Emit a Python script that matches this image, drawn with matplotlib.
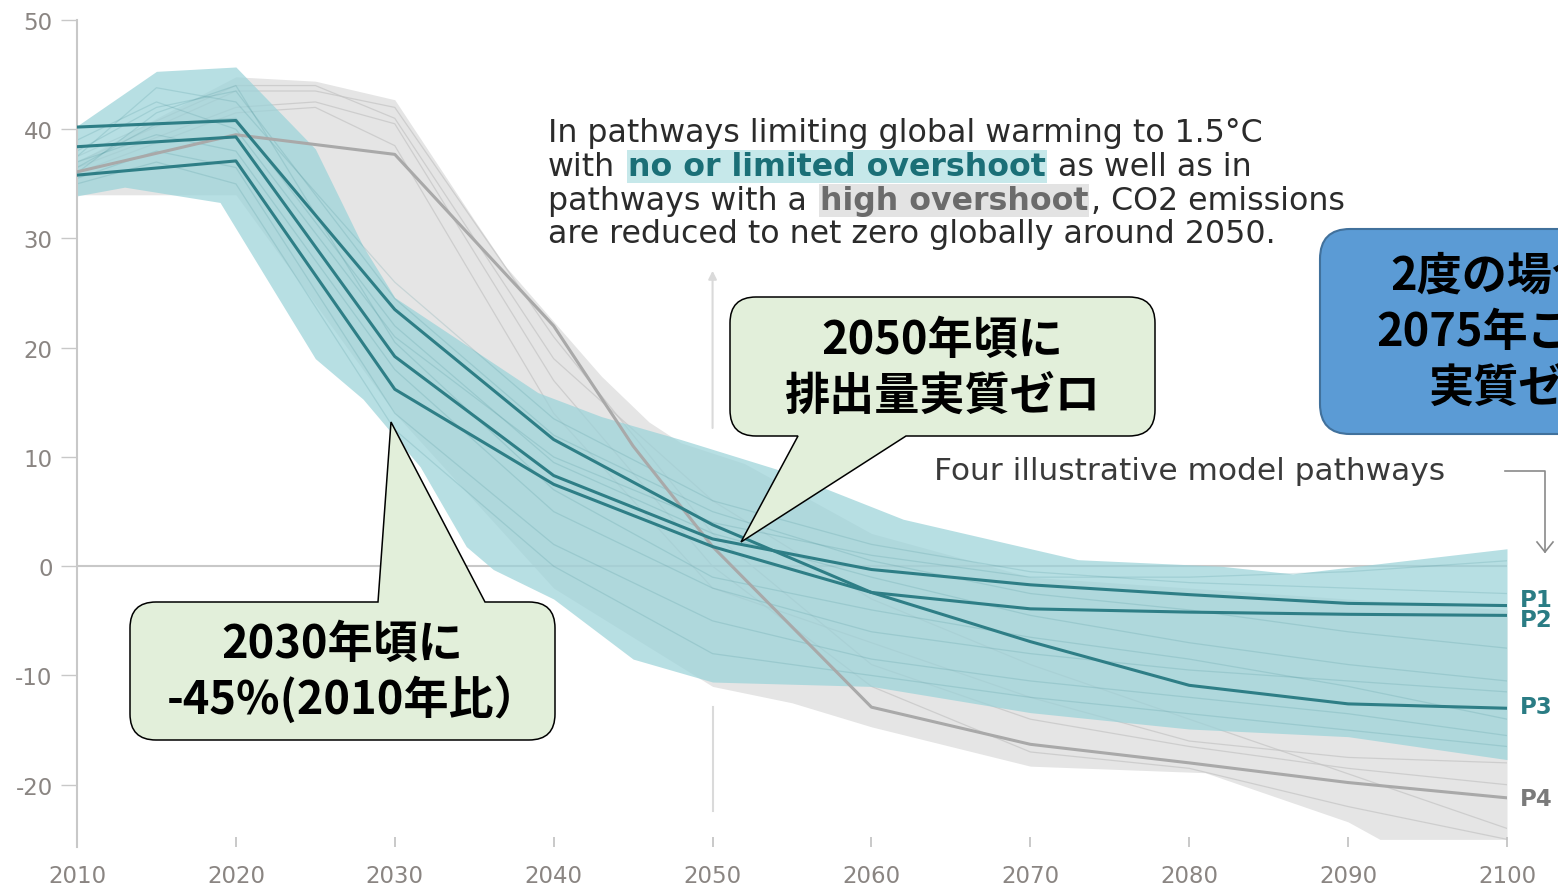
import numpy as np
import matplotlib
matplotlib.use('Agg')
import matplotlib.pyplot as plt
from matplotlib.path import Path
from matplotlib.patches import PathPatch
from matplotlib.lines import Line2D
from matplotlib.transforms import Affine2D

plt.rcParams['axes.unicode_minus'] = False

W, H = 1558, 887

# --- envelopes (GtCO2/yr) ---
teal_up_years = [2010, 2015, 2020, 2025, 2028, 2030, 2039, 2043, 2048, 2054, 2062, 2073, 2082, 2086.5, 2090, 2100]
teal_up = [40.3, 45.3, 45.7, 38.2, 29.3, 24.6, 15.9, 13.7, 11.6, 8.9, 4.3, 0.6, 0.0, -0.7, -0.1, 1.6]
teal_lo_years = [2010, 2013, 2019, 2025, 2028, 2031.6, 2034.5, 2036.2, 2040, 2045, 2050, 2060, 2070, 2080, 2090, 2100]
teal_lo = [33.9, 34.7, 33.3, 19.0, 15.3, 9.1, 1.8, -0.3, -3.0, -8.5, -10.6, -11.0, -13.4, -14.9, -15.6, -17.7]

grey_up_years = [2010, 2015, 2020, 2025, 2030, 2035, 2037, 2040, 2043, 2046, 2048, 2052, 2060, 2070, 2080, 2090, 2100]
grey_up = [37.0, 41.0, 44.8, 44.4, 42.7, 31.7, 27.4, 22.4, 17.4, 13.2, 11.3, 9.4, 3.0, -1.0, -2.0, -3.0, -4.0]
grey_lo_years = [2010, 2020, 2030, 2040, 2050, 2055, 2060, 2070, 2081, 2090, 2092, 2100]
grey_lo = [34.0, 34.0, 14.0, -2.0, -11.0, -12.5, -14.7, -18.3, -18.9, -23.4, -25.0, -25.0]

# --- illustrative pathways ---
p_years = [2010, 2020, 2030, 2040, 2050, 2060, 2070, 2080, 2090, 2100]
p1 = [38.4, 39.3, 19.2, 8.3, 2.5, -0.3, -1.7, -2.6, -3.4, -3.6]
p2 = [35.8, 37.1, 16.2, 7.5, 1.8, -2.4, -3.9, -4.2, -4.4, -4.5]
p3 = [40.2, 40.8, 23.5, 11.6, 3.8, -2.4, -6.9, -10.9, -12.6, -13.0]
p4_years = [2010, 2020, 2030, 2040, 2045, 2050, 2060, 2070, 2080, 2090, 2100]
p4 = [36.1, 39.5, 37.7, 22.0, 11.0, 1.8, -12.9, -16.3, -18.0, -19.8, -21.2]
p_labels = ['P1', 'P2', 'P3', 'P4']
p_label_y = [-3.0, -4.9, -12.8, -21.3]

# --- a few faint scenario lines inside the bands ---
s_years = [2010, 2015, 2020, 2030, 2040, 2050, 2060, 2070, 2080, 2090, 2100]
teal_runs = [
    [37.5, 43.8, 42.5, 26.0, 13.5, 6.0, 2.0, -0.5, -1.5, -2.0, -2.5],
    [36.5, 40.5, 41.0, 22.0, 9.5, 3.0, -1.0, -4.5, -7.0, -9.0, -10.5],
    [35.5, 38.0, 36.5, 14.0, 2.0, -5.0, -8.5, -10.5, -12.0, -13.5, -15.5],
    [38.0, 42.0, 43.5, 24.5, 12.0, 5.0, 0.5, -2.5, -4.0, -6.0, -7.5],
    [37.0, 39.5, 38.0, 18.0, 5.0, -2.0, -6.0, -8.0, -9.5, -10.5, -11.5],
    [36.0, 41.5, 44.0, 20.5, 7.0, -1.0, -4.0, -6.5, -8.5, -11.0, -14.0],
    [39.0, 42.5, 40.0, 21.0, 10.0, 4.0, 1.0, -1.0, -1.0, -0.5, 0.5],
    [35.0, 37.0, 35.0, 12.5, 0.0, -8.0, -10.0, -12.0, -13.5, -15.0, -16.5],
]
g_years = [2010, 2020, 2025, 2030, 2040, 2050, 2060, 2070, 2080, 2090, 2100]
grey_runs = [
    [37.0, 43.5, 43.5, 42.0, 21.0, 3.0, -9.0, -14.0, -16.5, -18.5, -20.0],
    [36.5, 42.0, 42.5, 40.5, 17.0, 0.0, -11.0, -17.0, -18.5, -22.0, -25.0],
    [36.0, 41.5, 42.0, 38.5, 14.0, -2.0, -7.0, -12.0, -16.0, -17.5, -18.0],
    [37.5, 44.0, 44.0, 41.0, 19.0, 6.0, -3.0, -9.0, -14.0, -19.0, -24.0],
]

x_ticks = list(range(2010, 2101, 10))
y_ticks = [-20, -10, 0, 10, 20, 30, 40, 50]

TEAL_FILL = '#9bd3d9'
TEAL_LINE = '#2e7e86'
GREY_FILL = '#e5e5e5'
TICK_TXT = '#8a8582'

fig = plt.figure(figsize=(W / 100, H / 100), dpi=100)
ax = fig.add_axes([77 / W, 1 - 848 / H, (1507 - 77) / W, (848 - 21) / H])
ax.set_xlim(2010, 2100)
ax.set_ylim(-25.7, 50)

# bands
gx = np.union1d(grey_up_years, grey_lo_years)
ax.fill_between(gx, np.interp(gx, grey_lo_years, grey_lo), np.interp(gx, grey_up_years, grey_up),
                color=GREY_FILL, lw=0, zorder=1)
for run in grey_runs:
    ax.plot(g_years, run, color='#c4c4c4', lw=0.9, alpha=0.7, zorder=1.5)

ax.axhline(0, color='#c8c8c8', lw=1.5, zorder=1.8)

tx = np.union1d(teal_up_years, teal_lo_years)
ax.fill_between(tx, np.interp(tx, teal_lo_years, teal_lo), np.interp(tx, teal_up_years, teal_up),
                color=TEAL_FILL, alpha=0.72, lw=0, zorder=2)
for run in teal_runs:
    ax.plot(s_years, run, color=TEAL_LINE, lw=0.9, alpha=0.16, zorder=2.5)

# 2050 marker line
ax.annotate('', xy=(2050, 27.3), xytext=(2050, 12.4),
            arrowprops=dict(arrowstyle='-|>', color='#dadada', lw=1.5, mutation_scale=12), zorder=1.2)
ax.plot([2050, 2050], [-12.9, -22.4], color='#dadada', lw=1.5, zorder=1.2)

# illustrative pathways
ax.plot(p4_years, p4, color='#a9a9a9', lw=2.2, zorder=3)
for vals in (p1, p2, p3):
    ax.plot(p_years, vals, color=TEAL_LINE, lw=2.2, zorder=3.5)
for lab, yv in zip(p_labels, p_label_y):
    ax.text(2100.8, yv, lab, ha='left', va='center', fontsize=16.5, fontweight='bold',
            color='#7a7a7a' if lab == 'P4' else '#2a7c84', clip_on=False)

# axes styling
for s in ('top', 'right', 'bottom'):
    ax.spines[s].set_visible(False)
ax.spines['left'].set_color('#c8c8c8')
ax.spines['left'].set_linewidth(1.5)
ax.set_yticks(y_ticks)
ax.set_xticks(x_ticks)
ax.tick_params(axis='y', direction='out', length=11.5, width=1, color='#c8c8c8',
               labelcolor=TICK_TXT, labelsize=16.5, pad=6)
ax.tick_params(axis='x', direction='in', length=7, width=1.2, color='#c0c0c0',
               labelcolor=TICK_TXT, labelsize=16.5, pad=12)
ax.patch.set_visible(False)

# --- headline text with highlighted phrases ---
def px(x, y):
    return x / W, 1 - y / H

body = dict(family='DejaVu Sans', fontsize=22.8, color='#2b2b2b')
lines = [
    (142, [("In pathways limiting global warming to 1.5°C", {}, 0)]),
    (176, [("with", {}, 0),
           ("no or limited overshoot", dict(fontweight='bold', color='#1b6f77',
                                            bbox=dict(boxstyle='square,pad=0.02', fc='#c6e8ea', ec='none')), 13),
           ("as well as in", {}, 12)]),
    (210, [("pathways with a", {}, 0),
           ("high overshoot", dict(fontweight='bold', color='#6b6b6b',
                                   bbox=dict(boxstyle='square,pad=0.02', fc='#e3e3e3', ec='none')), 13),
           (", CO2 emissions", {}, 3)]),
    (243, [("are reduced to net zero globally around 2050.", {}, 0)]),
]
for yb, parts in lines:
    s, kw, _ = parts[0]
    prev = fig.text(*px(548, yb), s, ha='left', va='baseline', **{**body, **kw})
    for s, kw, gap in parts[1:]:
        prev = ax.annotate(s, xy=(1, 0), xycoords=prev, xytext=(gap, 0), textcoords='offset pixels',
                           ha='left', va='bottom', annotation_clip=False, **{**body, **kw})

fig.text(*px(934, 472), "Four illustrative model pathways", ha='left', va='center',
         family='DejaVu Sans', fontsize=22.5, color='#3a3a3a')
arrow_col = '#8a8a8a'
fig.add_artist(Line2D([1505 / W, 1545 / W, 1545 / W], [1 - 472 / H, 1 - 472 / H, 1 - 553 / H],
                      transform=fig.transFigure, color=arrow_col, lw=1.2))
fig.add_artist(Line2D([1537 / W, 1545 / W, 1553 / W], [1 - 543 / H, 1 - 553 / H, 1 - 543 / H],
                      transform=fig.transFigure, color=arrow_col, lw=1.2))

# --- callouts drawn in pixel space ---
def callout(x0, ytop, x1, ybot, r, tail=None, side=None):
    T, B = H - ytop, H - ybot
    v, c = [(x0 + r, T)], [Path.MOVETO]
    if side == 'top':
        (ta, tb, tip) = tail
        v += [(ta, T), (tip[0], H - tip[1]), (tb, T)]
        c += [Path.LINETO] * 3
    v += [(x1 - r, T), (x1, T), (x1, T - r), (x1, B + r), (x1, B), (x1 - r, B)]
    c += [Path.LINETO, Path.CURVE3, Path.CURVE3, Path.LINETO, Path.CURVE3, Path.CURVE3]
    if side == 'bottom':
        (ta, tb, tip) = tail
        v += [(tb, B), (tip[0], H - tip[1]), (ta, B)]
        c += [Path.LINETO] * 3
    v += [(x0 + r, B), (x0, B), (x0, B + r), (x0, T - r), (x0, T), (x0 + r, T), (x0 + r, T)]
    c += [Path.LINETO, Path.CURVE3, Path.CURVE3, Path.LINETO, Path.CURVE3, Path.CURVE3, Path.CLOSEPOLY]
    return Path(v, c)

to_fig = Affine2D().scale(1 / W, 1 / H) + fig.transFigure
green = '#e2efda'
fig.add_artist(PathPatch(callout(730, 298, 1155, 437, 26, (798, 906, (741, 543)), 'bottom'),
                         fc=green, ec='black', lw=1.1, transform=to_fig, zorder=5))
fig.add_artist(PathPatch(callout(130, 603, 555, 741, 26, (378, 485, (391, 423)), 'top'),
                         fc=green, ec='black', lw=1.1, transform=to_fig, zorder=5))
fig.add_artist(PathPatch(callout(1320, 230, 1720, 435, 30),
                         fc='#5b9bd5', ec='#41719c', lw=1.5, transform=to_fig, zorder=5))

jp = dict(family=['Noto Sans CJK JP', 'DejaVu Sans'], fontweight='bold', fontsize=32.5,
          color='black', ha='center', va='center', zorder=6)
fig.text(*px(942, 341), "2050年頃に", **jp)
fig.text(*px(942, 397), "排出量実質ゼロ", **jp)
fig.text(*px(342, 645), "2030年頃に", **jp)
fig.text(*px(353, 700), "-45%(2010年比）", **jp)
fig.text(*px(1516, 277), "2度の場合は", **jp)
fig.text(*px(1520, 333), "2075年ごろに", **jp)
fig.text(*px(1518, 389), "実質ゼロ", **jp)

fig.savefig('out.png', dpi=100)
